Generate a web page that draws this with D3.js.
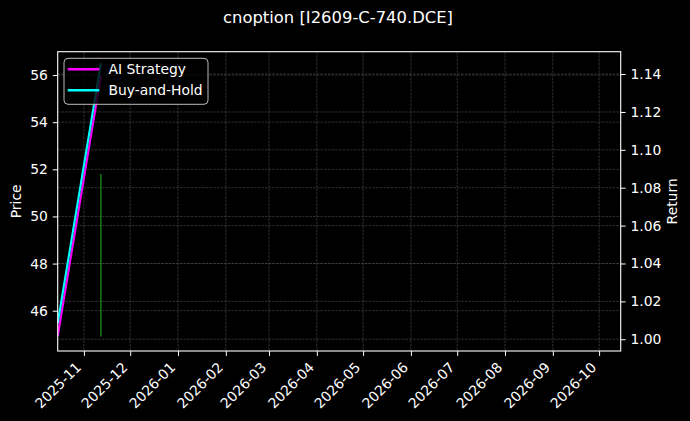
<!DOCTYPE html>
<html>
<head>
<meta charset="utf-8">
<script src="https://cdn.jsdelivr.net/npm/d3@7"></script>
<style>
  html, body { margin: 0; padding: 0; background: #000; }
  svg { display: block; }
  text { font-family: "DejaVu Sans", sans-serif; fill: #fff; }
</style>
</head>
<body>
<svg id="chart" width="690" height="421"></svg>
<script>
// ---- data ----
const title = "cnoption [I2609-C-740.DCE]";
const xLimits = ["2025-10-15", "2026-10-15"];
const dates = ["2025-10-15", "2025-11-12"];
const aiStrategy = [1.0017, 1.139];
const buyAndHold = [1.0086, 1.1458];
const priceBarDates = ["2025-11-12", "2025-11-12"];
const priceBarValues = [44.9, 51.8];
const priceLimits = [44.29, 56.99];
const returnLimits = [0.9938, 1.1518];
const priceTicks = [46, 48, 50, 52, 54, 56];
const returnTicks = [1.00, 1.02, 1.04, 1.06, 1.08, 1.10, 1.12, 1.14];
const seriesNames = ["AI Strategy", "Buy-and-Hold"];
const seriesColors = ["#ff00ff", "#00ffff"];

// ---- layout ----
const W = 690, H = 421;
const m = { left: 57.7, top: 51.7, right: W - 620.7, bottom: H - 351 };
const iw = W - m.left - m.right, ih = H - m.top - m.bottom;
const parse = d3.utcParse("%Y-%m-%d");

const svg = d3.select("#chart");
svg.append("rect").attr("width", W).attr("height", H).attr("fill", "#000");

const x = d3.scaleUtc().domain(xLimits.map(parse)).range([0, iw]);
const yP = d3.scaleLinear().domain(priceLimits).range([ih, 0]);
const yR = d3.scaleLinear().domain(returnLimits).range([ih, 0]);

const g = svg.append("g").attr("transform", `translate(${m.left},${m.top})`);
svg.append("defs").append("clipPath").attr("id", "clip")
  .append("rect").attr("width", iw).attr("height", ih);

const monthTicks = d3.utcMonth.range(parse("2025-11-01"), parse("2026-10-02"));

// grid
const grid = g.append("g").attr("stroke", "#444").attr("stroke-width", 0.7)
  .attr("stroke-dasharray", "2.6,1.1");
grid.selectAll(".vx").data(monthTicks).enter().append("line")
  .attr("x1", d => x(d)).attr("x2", d => x(d)).attr("y1", 0).attr("y2", ih);
grid.selectAll(".hp").data(priceTicks).enter().append("line")
  .attr("x1", 0).attr("x2", iw).attr("y1", d => yP(d)).attr("y2", d => yP(d));
grid.selectAll(".hr").data(returnTicks).enter().append("line")
  .attr("x1", 0).attr("x2", iw).attr("y1", d => yR(d)).attr("y2", d => yR(d));

const plot = g.append("g").attr("clip-path", "url(#clip)");

// price bar (green)
const priceLine = d3.line().x(d => x(d[0])).y(d => yP(d[1]));
plot.append("path")
  .datum(priceBarDates.map((d, i) => [parse(d), priceBarValues[i]]))
  .attr("d", priceLine).attr("fill", "none")
  .attr("stroke", "#1e9a1e").attr("stroke-width", 1.2);

// return lines
const retLine = d3.line().x(d => x(d[0])).y(d => yR(d[1]));
[aiStrategy, buyAndHold].forEach((vals, k) => {
  plot.append("path")
    .datum(dates.map((d, i) => [parse(d), vals[i]]))
    .attr("d", retLine).attr("fill", "none")
    .attr("stroke", seriesColors[k]).attr("stroke-width", 2.1)
    .attr("stroke-linejoin", "round");
});

// axes
const axisStyle = sel => {
  sel.selectAll("path").remove();
  sel.selectAll("line").attr("stroke", "#fff").attr("stroke-width", 1);
  sel.selectAll("text").attr("fill", "#fff").style("font-size", "13.9px")
    .style("font-family", "DejaVu Sans, sans-serif");
};

const xAxis = g.append("g").attr("transform", `translate(0,${ih})`)
  .call(d3.axisBottom(x).tickValues(monthTicks).tickFormat(d3.utcFormat("%Y-%m"))
    .tickSize(4.9).tickPadding(4.9));
axisStyle(xAxis);
xAxis.selectAll("text")
  .attr("text-anchor", "end")
  .attr("dy", null).attr("y", null)
  .attr("transform", "translate(-2.3,17.2) rotate(-45)");

const yAxisL = g.append("g")
  .call(d3.axisLeft(yP).tickValues(priceTicks).tickFormat(d3.format("d"))
    .tickSize(4.9).tickPadding(4.9));
axisStyle(yAxisL);

const yAxisR = g.append("g").attr("transform", `translate(${iw},0)`)
  .call(d3.axisRight(yR).tickValues(returnTicks).tickFormat(d3.format(".2f"))
    .tickSize(4.9).tickPadding(4.9));
axisStyle(yAxisR);

// frame
g.append("rect").attr("width", iw).attr("height", ih)
  .attr("fill", "none").attr("stroke", "#fff").attr("stroke-width", 1.1);

// axis labels
svg.append("text").attr("transform", `translate(21,${m.top + ih / 2}) rotate(-90)`)
  .attr("text-anchor", "middle").style("font-size", "13.9px").text("Price");
svg.append("text").attr("transform", `translate(677,${m.top + ih / 2}) rotate(-90)`)
  .attr("text-anchor", "middle").style("font-size", "13.9px").text("Return");

// title
svg.append("text").attr("x", 338).attr("y", 23).attr("text-anchor", "middle")
  .style("font-size", "16.4px").text(title);

// legend
const lg = svg.append("g").attr("transform", "translate(64,58.3)");
lg.append("rect").attr("width", 144).attr("height", 46).attr("rx", 4)
  .attr("fill", "#000").attr("fill-opacity", 0.8)
  .attr("stroke", "#bbb").attr("stroke-width", 1);
seriesNames.forEach((name, i) => {
  const yy = 11 + i * 21;
  lg.append("line").attr("x1", 3.7).attr("x2", 35.3).attr("y1", yy).attr("y2", yy)
    .attr("stroke", seriesColors[i]).attr("stroke-width", 2.6);
  lg.append("text").attr("x", 44.5).attr("y", yy + 5).style("font-size", "13.9px").text(name);
});
</script>
</body>
</html>
